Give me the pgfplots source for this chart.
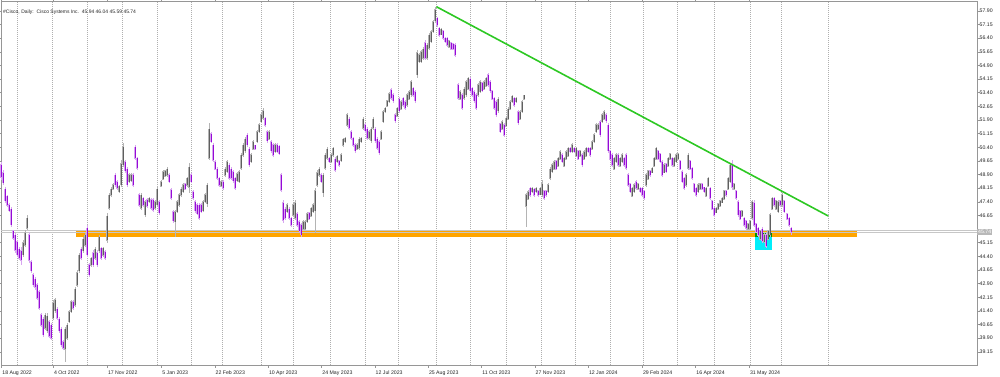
\documentclass[border=0pt]{standalone}
\usepackage{pgfplots}
\pgfplotsset{compat=1.18}
\usepackage{pgfplotstable}
\usepackage{fontspec}
\setmainfont{Liberation Sans}
\definecolor{bearbody}{RGB}{150,10,215}
\definecolor{bearwick}{RGB}{215,165,240}
\definecolor{bullbody}{RGB}{95,95,95}
\definecolor{bullwick}{RGB}{180,180,180}
\definecolor{trend}{RGB}{45,200,35}
\definecolor{lvl}{RGB}{255,165,0}
\definecolor{boxc}{RGB}{0,238,250}
\definecolor{overlap}{RGB}{0,150,0}
\definecolor{framec}{RGB}{150,150,150}
\definecolor{sepc}{RGB}{175,175,175}

\pgfplotstableread{
x o h l c
1 49.45 49.59 48.60 48.75
3 49.00 49.15 48.33 48.45
5 48.10 48.22 47.34 47.45
7 47.70 47.78 47.12 47.20
9 47.25 47.34 46.84 46.90
11 47.00 47.12 46.02 46.15
13 45.80 45.85 45.30 45.40
15 45.55 45.69 44.59 44.75
17 45.20 45.30 44.37 44.50
19 44.80 44.92 44.20 44.30
21 44.70 44.92 43.93 44.20
23 44.50 45.30 44.37 45.15
25 45.00 45.85 44.92 45.70
27 45.95 46.67 45.85 46.50
29 45.60 45.74 44.03 44.20
31 44.10 44.20 43.49 43.60
33 43.40 43.49 42.71 42.85
35 43.15 43.27 42.55 42.70
37 42.85 42.94 42.00 42.10
39 42.45 42.55 41.45 41.55
41 41.20 41.29 40.52 40.60
43 40.95 41.07 39.97 40.10
45 40.45 41.29 40.35 41.15
47 40.30 41.29 40.19 41.10
49 40.80 40.90 39.91 40.00
51 40.60 40.74 39.80 39.90
53 41.00 42.00 40.90 41.85
55 41.40 42.11 41.29 42.00
57 41.50 41.62 40.90 41.00
59 40.95 41.07 40.19 40.30
61 40.40 40.52 39.42 39.55
63 39.70 39.80 39.25 39.35
65 39.30 40.52 38.59 40.40
67 39.90 40.74 39.80 40.60
69 40.80 41.45 40.74 41.35
71 41.35 42.00 41.29 41.90
73 41.90 42.00 41.45 41.55
75 41.70 42.71 41.62 42.60
77 42.80 43.65 42.71 43.50
79 43.60 44.59 43.49 44.45
81 44.80 44.92 44.20 44.30
83 44.70 45.47 44.59 45.35
85 45.00 45.69 44.92 45.55
87 45.95 46.13 44.37 44.50
89 43.95 44.03 43.27 43.40
91 43.90 44.37 43.82 44.30
93 44.60 44.75 43.82 43.95
95 44.30 44.92 44.20 44.80
97 44.60 44.75 43.82 43.95
99 44.70 45.58 44.59 45.45
101 44.85 44.92 44.20 44.30
103 44.45 44.92 44.37 44.85
105 44.65 44.75 44.20 44.30
107 45.30 46.79 45.14 46.60
109 47.05 47.89 46.95 47.75
111 47.75 48.22 47.67 48.10
113 48.10 48.44 48.05 48.35
115 48.85 48.99 48.22 48.35
117 48.50 48.60 48.05 48.15
119 47.95 48.33 47.89 48.25
121 48.35 49.70 48.22 49.50
123 49.45 50.64 49.32 50.40
125 49.60 49.70 48.99 49.10
127 49.20 49.32 48.22 48.35
129 48.50 48.99 48.44 48.90
131 48.55 48.99 48.49 48.90
133 48.90 48.99 48.22 48.30
135 50.40 50.53 49.70 49.80
137 49.80 49.87 49.15 49.25
139 47.80 47.89 47.12 47.20
141 47.05 47.89 46.95 47.75
143 47.60 47.67 47.12 47.20
145 46.70 47.50 46.57 47.40
147 47.50 47.61 47.06 47.15
149 47.40 47.67 47.34 47.60
151 47.50 47.61 46.95 47.05
153 47.50 47.61 46.84 46.95
155 47.05 47.50 46.95 47.40
157 47.25 48.22 47.12 48.10
159 47.40 47.50 46.67 46.80
161 48.25 48.60 48.22 48.50
163 48.65 49.15 48.60 49.05
165 48.80 49.15 48.77 49.10
167 48.85 49.32 48.77 49.20
169 48.90 48.99 48.44 48.50
171 48.05 48.16 47.50 47.60
173 46.85 46.95 46.24 46.35
175 46.30 46.95 45.47 46.85
177 46.85 47.50 46.79 47.40
179 47.20 47.89 47.12 47.80
181 47.75 48.22 47.67 48.10
183 47.95 48.44 47.89 48.35
185 48.40 48.44 48.05 48.10
187 48.30 48.77 48.22 48.70
189 48.20 49.54 47.89 49.30
191 48.90 48.99 48.44 48.50
193 47.95 48.05 47.50 47.60
195 47.40 47.50 46.79 46.90
197 47.25 47.34 46.67 46.75
199 47.20 47.34 46.40 46.50
201 47.25 47.34 46.79 46.85
203 46.90 47.50 46.84 47.40
205 47.40 47.89 47.34 47.80
207 47.30 48.44 47.12 48.30
209 49.80 51.74 49.70 51.40
211 51.15 51.24 50.64 50.70
213 50.50 50.64 49.59 49.70
215 49.60 49.70 49.15 49.20
217 49.20 49.32 48.60 48.70
219 48.70 48.77 48.22 48.30
221 48.25 48.60 48.22 48.50
223 48.50 48.60 48.05 48.15
225 48.85 49.32 48.77 49.20
227 49.05 49.70 48.99 49.60
229 49.40 49.54 48.60 48.70
231 49.20 49.32 48.60 48.70
233 49.05 49.15 48.44 48.55
235 48.70 48.77 48.05 48.15
237 48.55 49.04 48.49 48.95
239 48.50 49.15 48.44 49.05
241 49.25 50.09 49.15 49.95
243 49.95 50.64 49.87 50.50
245 50.20 50.97 50.09 50.85
247 51.05 51.19 50.42 50.55
249 50.30 50.42 49.32 49.45
251 49.60 50.09 49.54 50.00
253 50.30 50.80 50.25 50.70
255 50.50 50.53 50.25 50.30
257 50.70 51.35 50.64 51.25
259 51.25 51.74 51.19 51.65
261 51.80 52.29 51.74 52.20
263 52.00 52.56 51.90 52.40
265 52.00 52.07 51.52 51.60
267 51.25 51.35 50.64 50.75
269 50.85 51.35 50.80 51.25
271 50.70 50.80 50.09 50.20
273 50.55 50.64 49.87 49.95
275 50.15 50.64 50.09 50.55
277 50.55 50.64 50.09 50.15
279 50.45 50.53 49.98 50.05
281 48.90 48.99 47.94 48.05
283 47.35 47.50 46.24 46.40
285 47.00 47.12 46.40 46.50
287 46.85 47.34 46.79 47.25
289 47.00 47.12 46.40 46.50
291 46.50 46.57 46.02 46.10
293 46.65 47.34 46.57 47.25
295 46.50 47.50 46.40 47.35
297 46.75 46.84 46.02 46.10
299 46.30 46.40 45.69 45.80
301 46.15 46.24 45.47 45.60
303 45.90 46.40 45.85 46.30
305 45.90 46.40 45.85 46.30
307 46.30 46.84 46.24 46.75
309 46.80 46.84 46.40 46.45
311 46.60 47.12 46.57 47.05
313 46.85 47.34 46.79 47.25
315 46.90 48.16 45.69 48.00
317 48.30 49.15 48.22 49.00
319 48.85 49.32 48.77 49.20
321 48.90 48.99 48.44 48.50
323 47.90 48.99 47.67 48.85
325 49.25 50.09 49.15 49.95
327 49.80 50.42 49.70 50.30
329 49.80 49.87 49.54 49.60
331 49.60 50.09 49.54 50.00
333 49.95 50.42 49.87 50.35
335 49.75 49.87 49.04 49.15
337 49.60 49.98 49.54 49.90
339 49.65 49.70 49.32 49.40
341 49.65 50.09 49.59 50.00
343 50.50 50.91 50.42 50.85
345 50.70 50.97 50.64 50.90
347 51.60 52.29 51.52 52.20
349 51.95 52.07 51.35 51.45
351 51.25 51.35 50.80 50.90
353 50.90 50.97 50.42 50.50
355 50.55 50.64 50.09 50.20
357 50.30 50.64 50.25 50.55
359 50.35 50.97 50.25 50.85
361 50.70 50.97 50.64 50.90
363 51.45 52.07 51.35 51.95
365 51.65 51.74 51.19 51.30
367 51.40 51.52 50.80 50.90
369 50.90 51.35 50.80 51.25
371 50.75 51.52 50.64 51.40
373 51.45 52.07 51.35 51.95
375 51.40 51.52 50.64 50.75
377 50.85 50.97 50.25 50.35
379 50.70 50.80 49.98 50.10
381 50.85 51.35 50.80 51.25
383 51.80 52.45 51.74 52.35
385 52.35 52.62 52.29 52.55
387 52.65 53.00 52.62 52.95
389 52.90 53.44 52.84 53.35
391 53.55 53.66 53.00 53.10
393 53.30 53.39 52.84 52.95
395 52.20 52.29 51.74 51.85
397 52.10 52.62 52.07 52.55
399 53.05 53.17 52.29 52.40
401 52.50 53.00 52.45 52.90
403 53.10 53.17 52.62 52.70
405 52.90 53.00 52.45 52.55
407 52.70 53.39 52.62 53.30
409 53.05 53.55 53.00 53.45
411 53.30 54.10 53.17 54.00
413 53.65 53.72 53.17 53.25
415 53.45 53.55 52.84 52.95
417 54.40 55.75 54.21 55.60
419 55.10 55.59 55.04 55.50
421 55.10 55.75 55.04 55.65
423 55.30 55.92 55.20 55.80
425 56.15 56.30 55.20 55.30
427 55.30 56.14 55.20 56.00
429 55.85 56.69 55.75 56.55
431 56.20 56.85 56.14 56.75
433 56.75 57.40 56.69 57.30
435 57.35 58.12 57.24 57.95
437 57.50 57.57 57.02 57.10
439 56.95 57.02 56.47 56.55
441 56.60 56.96 56.58 56.90
443 56.80 56.85 56.30 56.40
445 56.40 56.47 56.14 56.20
447 56.40 56.47 55.92 56.00
449 55.90 56.30 55.86 56.25
451 56.15 56.19 55.75 55.80
453 56.10 56.14 55.75 55.80
455 56.05 56.14 55.37 55.45
458 53.85 53.94 53.00 53.10
460 53.05 53.55 53.00 53.45
462 53.30 53.39 52.45 52.55
464 53.10 53.72 53.00 53.60
466 53.30 54.10 53.17 54.00
468 53.60 54.27 53.55 54.20
470 54.15 54.27 53.39 53.50
472 53.65 53.72 53.17 53.25
474 53.45 53.55 52.84 52.95
476 53.30 53.39 52.45 52.55
478 53.25 53.94 53.17 53.85
480 53.45 54.10 53.39 54.00
482 53.95 53.99 53.44 53.50
484 53.60 54.10 53.55 54.00
486 53.75 54.27 53.72 54.20
488 54.40 54.49 53.72 53.80
490 54.00 54.10 53.39 53.50
492 53.50 53.55 53.00 53.05
494 53.10 53.17 52.45 52.55
496 52.90 53.00 52.07 52.20
498 52.40 53.17 52.29 53.05
500 51.70 51.74 51.19 51.25
502 51.40 51.90 51.35 51.80
504 51.65 51.74 50.97 51.05
506 51.55 52.07 51.52 52.00
508 51.95 52.62 51.90 52.50
510 52.50 53.00 52.45 52.90
512 52.90 53.28 52.84 53.20
514 53.10 53.17 52.62 52.70
516 52.90 53.17 52.84 53.10
518 52.35 52.45 51.63 51.75
520 51.95 52.45 51.90 52.35
522 52.35 53.00 52.29 52.90
524 53.05 53.28 53.00 53.25
526 47.15 47.89 46.02 47.80
528 47.55 48.05 47.50 47.95
530 48.15 48.22 47.67 47.75
532 47.95 48.22 47.89 48.15
534 48.10 48.16 47.67 47.75
536 47.95 48.22 47.89 48.15
538 48.00 48.05 47.67 47.75
540 47.80 48.22 47.78 48.15
542 47.80 48.60 47.67 48.40
544 48.00 48.05 47.50 47.60
546 48.00 48.05 47.67 47.75
548 47.95 48.44 47.89 48.35
550 48.70 49.32 48.60 49.20
552 49.05 49.54 48.99 49.45
554 49.20 49.70 49.15 49.60
556 49.65 49.70 49.15 49.20
558 49.35 49.87 49.32 49.80
560 49.75 50.25 49.70 50.15
562 50.00 50.09 49.54 49.60
564 49.35 49.87 49.32 49.80
566 49.75 50.25 49.70 50.15
568 49.90 50.42 49.87 50.35
570 50.35 50.42 50.09 50.15
572 50.15 50.64 50.09 50.55
574 50.35 50.42 50.09 50.15
576 49.90 50.42 49.87 50.35
578 50.20 50.25 49.70 49.75
580 49.90 50.25 49.87 50.20
582 50.00 50.09 49.32 49.45
584 49.75 50.25 49.70 50.15
586 49.90 50.42 49.87 50.35
588 50.35 50.42 50.09 50.15
590 50.35 50.42 49.87 49.95
592 50.30 50.80 50.25 50.70
594 50.70 51.19 50.64 51.10
596 51.25 51.74 51.19 51.65
598 51.40 51.74 51.35 51.65
600 51.80 51.90 50.97 51.10
602 51.80 52.29 51.74 52.20
604 51.95 52.45 51.90 52.35
606 52.20 52.29 51.74 51.85
608 51.60 51.74 50.09 50.20
610 50.20 50.25 49.70 49.75
612 50.00 50.09 49.32 49.40
614 49.20 49.87 49.15 49.80
616 49.60 50.09 49.54 50.00
618 50.00 50.09 49.32 49.40
620 49.35 49.87 49.32 49.80
622 49.60 50.09 49.54 50.00
624 49.80 49.87 49.32 49.40
626 50.00 50.09 49.15 49.25
628 48.90 48.99 48.22 48.30
630 48.40 48.44 47.89 47.95
632 47.70 48.22 47.67 48.15
634 47.95 48.44 47.89 48.35
636 48.50 48.60 48.05 48.15
638 48.10 48.44 48.05 48.40
640 48.15 48.22 47.89 47.95
642 48.15 48.22 47.67 47.75
644 48.00 48.05 47.50 47.60
646 48.30 48.99 48.22 48.90
648 48.65 49.15 48.60 49.10
650 49.10 49.15 48.77 48.85
652 49.00 49.32 48.99 49.25
654 49.35 49.87 49.32 49.80
656 49.75 50.42 49.70 50.35
658 50.20 50.25 49.70 49.75
660 50.05 50.09 49.54 49.60
662 49.60 49.70 48.77 48.85
664 49.00 49.54 48.99 49.45
666 49.50 49.54 48.99 49.05
668 49.35 49.87 49.32 49.80
670 49.75 50.09 49.70 50.05
672 49.80 49.87 49.32 49.40
674 49.35 49.87 49.32 49.80
676 49.60 50.09 49.54 50.00
678 49.75 50.09 49.70 50.05
680 49.65 49.70 49.15 49.20
682 49.05 49.15 48.44 48.50
684 48.70 48.77 48.05 48.15
686 48.30 48.99 48.22 48.90
688 49.25 50.09 49.15 49.95
690 49.65 49.70 49.15 49.20
692 49.25 49.32 48.60 48.70
694 48.40 48.44 47.89 47.95
696 48.15 48.22 47.67 47.75
698 47.95 48.44 47.89 48.35
700 48.10 48.44 48.05 48.40
702 48.40 48.44 48.05 48.10
704 48.20 48.22 47.89 47.95
706 47.70 48.22 47.67 48.15
708 48.25 48.77 48.22 48.70
710 48.15 48.22 47.50 47.60
712 47.45 47.50 46.95 47.00
714 47.05 47.12 46.57 46.65
716 46.80 47.12 46.79 47.05
718 47.00 47.34 46.95 47.30
720 47.15 47.50 47.12 47.45
722 47.35 47.67 47.34 47.60
724 47.55 48.05 47.50 48.00
726 48.00 48.05 47.67 47.75
728 48.10 48.77 48.05 48.70
730 48.50 49.54 48.44 49.40
732 49.50 49.70 48.05 48.20
734 48.10 48.44 48.05 48.40
736 48.00 48.05 47.50 47.60
738 47.40 47.50 46.57 46.70
740 46.90 46.95 46.40 46.45
742 46.60 46.95 46.57 46.90
744 46.50 46.57 46.02 46.10
746 46.35 46.40 45.85 45.95
748 45.90 46.24 45.85 46.20
750 45.90 46.40 45.85 46.35
752 46.50 47.50 46.40 47.40
754 47.35 47.50 46.02 46.10
756 46.20 46.24 45.69 45.75
758 45.95 46.02 45.47 45.55
760 45.35 45.85 45.30 45.80
762 45.90 46.02 45.14 45.25
764 45.20 45.69 45.14 45.60
766 45.60 45.69 44.86 44.95
768 45.35 45.85 45.30 45.80
770 45.60 46.79 45.47 46.70
772 47.00 47.67 46.95 47.60
774 47.60 47.67 47.12 47.20
776 47.00 47.50 46.95 47.45
778 46.85 47.50 46.79 47.40
780 47.45 47.50 47.12 47.20
782 47.20 47.89 47.12 47.80
784 47.45 47.50 46.79 46.85
787 46.75 46.79 46.40 46.45
789 46.50 46.57 46.02 46.10
791 45.94 46.04 45.59 45.74
}\candles

\begin{document}
\begin{tikzpicture}
\useasboundingbox (-1pt,-11pt) rectangle (999pt,365pt);
\begin{axis}[
  at={(0pt,0pt)}, anchor=south west,
  scale only axis, width=976pt, height=364pt,
  xmin=1, xmax=977, ymin=38.425, ymax=58.445,
  clip=false,
  axis line style={framec, line width=0.8pt},
  tick style={framec, line width=0.6pt},
  major tick length=2.5pt,
  xtick align=outside, ytick align=outside,
  xtick={1.7,53.3,107.3,161.7,215,268.3,321.7,375,428.3,481.7,535,588.3,642.3,695.7,749.3},
  xticklabels={18 Aug 2022,4 Oct 2022,17 Nov 2022,5 Jan 2023,22 Feb 2023,10 Apr 2023,24 May 2023,12 Jul 2023,25 Aug 2023,11 Oct 2023,27 Nov 2023,12 Jan 2024,29 Feb 2024,16 Apr 2024,31 May 2024},
  x tick label style={font=\fontsize{5.2}{6}\selectfont, anchor=north west, inner sep=0pt, xshift=0.5pt, yshift=-2.8pt, text=black!85},
  ytick={39.15,39.90,40.65,41.40,42.15,42.90,43.65,44.40,45.15,46.65,47.40,48.15,48.90,49.65,50.40,51.15,51.90,52.65,53.40,54.15,54.90,55.65,56.40,57.15,57.90},
  yticklabel pos=right,
  y tick label style={font=\fontsize{5.2}{6}\selectfont, anchor=west, inner sep=0pt, xshift=0pt, text=black!85,
     /pgf/number format/.cd, fixed, fixed zerofill, precision=2, assume math mode=true},
  extra x ticks={17.7,52.7,87.7,122.7,157.7,191.7,222.7,261.3,293,330,365,398.7,436.7,470,506.7,541.7,575.7,610,643.3,677.3,714,750.7,781.7,828.3},
  extra x tick labels={},
  extra x tick style={xmajorgrids=true, major tick length=0pt},
  major grid style={sepc, line width=0.6pt, dash pattern=on 1pt off 1pt},
  candle/.style n args={2}{draw=none, mark=none, forget plot,
     error bars/.cd, y dir=both, y explicit, error mark=none,
     error bar style={draw=#1, line width=#2, solid}},
]
% background objects
\addplot[fill=boxc, draw=none] coordinates {(755,45.70) (772,45.70) (772,44.75) (755,44.75)} -- cycle;
\addplot[lvl, line width=6pt] coordinates {(76,45.635) (857,45.635)};
\addplot[overlap, line width=4pt] coordinates {(755,45.575) (772,45.575)};
\addplot[black!22, line width=0.6pt] coordinates {(1,45.83) (977,45.83)};
\addplot[black!22, line width=0.6pt] coordinates {(1,45.74) (977,45.74)};
% bull candles (close >= open)
\addplot[candle={bullwick}{0.8pt}]
  table[x=x, y expr={\thisrow{c}>=\thisrow{o} ? 0.5*(\thisrow{h}+\thisrow{l}) : nan}, y error expr={0.5*(\thisrow{h}-\thisrow{l})}] {\candles};
\addplot[candle={bullwick}{1.7pt}]
  table[x=x, y expr={\thisrow{c}>=\thisrow{o} ? 0.5*(\thisrow{o}+\thisrow{c}) : nan}, y error expr={0.5*(\thisrow{c}-\thisrow{o})+0.03}] {\candles};
\addplot[candle={bullbody}{0.95pt}]
  table[x=x, y expr={\thisrow{c}>=\thisrow{o} ? 0.5*(\thisrow{o}+\thisrow{c}) : nan}, y error expr={0.5*(\thisrow{c}-\thisrow{o})}] {\candles};
% bear candles (close < open)
\addplot[candle={bearwick}{0.8pt}]
  table[x=x, y expr={\thisrow{c}<\thisrow{o} ? 0.5*(\thisrow{h}+\thisrow{l}) : nan}, y error expr={0.5*(\thisrow{h}-\thisrow{l})}] {\candles};
\addplot[candle={bearwick}{1.7pt}]
  table[x=x, y expr={\thisrow{c}<\thisrow{o} ? 0.5*(\thisrow{o}+\thisrow{c}) : nan}, y error expr={0.5*(\thisrow{o}-\thisrow{c})+0.03}] {\candles};
\addplot[candle={bearbody}{0.95pt}]
  table[x=x, y expr={\thisrow{c}<\thisrow{o} ? 0.5*(\thisrow{o}+\thisrow{c}) : nan}, y error expr={0.5*(\thisrow{o}-\thisrow{c})}] {\candles};
% trend line
\addplot[trend, line width=1.6pt] coordinates {(436.5,58.13) (828.3,46.62)};
% labels
\node[anchor=west, inner sep=0pt, font=\fontsize{5}{6}\selectfont, text=black!85] at (rel axis cs:0,1) [xshift=2pt, yshift=-11pt] {\#Cisco, Daily:\ \ Cisco Systems Inc.\ \ 45.94 46.04 45.59 45.74};
\node[anchor=west, inner xsep=1pt, inner ysep=1.2pt, fill=black!28, text=white, font=\fontsize{5.2}{6}\selectfont] at (axis cs:977,45.74) {45.74};
\end{axis}
\end{tikzpicture}
\end{document}
